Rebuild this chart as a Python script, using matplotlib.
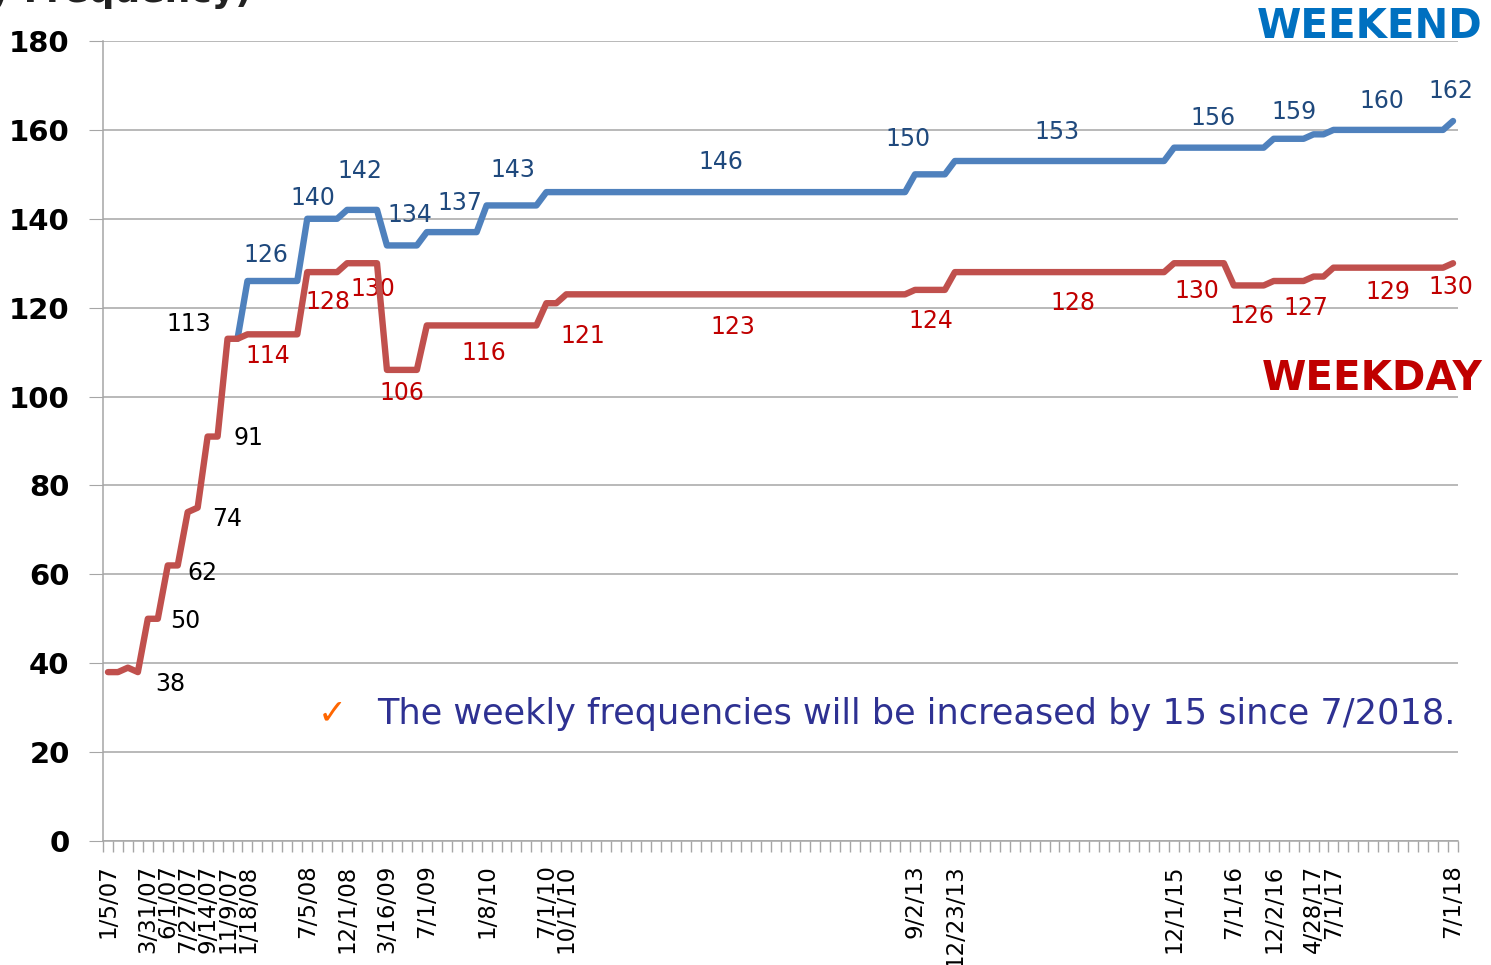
import numpy as np
import matplotlib.pyplot as plt

# categories (evenly spaced, only some carry a date label)
n_cat = 136
date_labels = ["1/5/07", "3/31/07", "6/1/07", "7/27/07", "9/14/07", "11/9/07",
               "1/18/08", "7/5/08", "12/1/08", "3/16/09", "7/1/09", "1/8/10",
               "7/1/10", "10/1/10", "9/2/13", "12/23/13", "12/1/15", "7/1/16",
               "12/2/16", "4/28/17", "7/1/17", "7/1/18"]
date_pos = [0, 4, 6, 8, 10, 12, 14, 20, 24, 28, 32, 38, 44, 46, 81, 85,
            107, 113, 117, 121, 123, 135]

# weekday frequency: category where a new value starts, and that value
weekday_start = [0, 2, 3, 4, 6, 8, 9, 10, 12, 14, 20, 24, 28, 32, 44, 46,
                 81, 85, 107, 113, 117, 121, 123, 135]
weekday_value = [38, 39, 38, 50, 62, 74, 75, 91, 113, 114, 128, 130, 106, 116,
                 121, 123, 124, 128, 130, 125, 126, 127, 129, 130]

# weekend frequency (starts in 11/2007)
weekend_start = [13, 14, 20, 24, 28, 32, 38, 44, 81, 85, 107, 117, 121, 123, 135]
weekend_value = [113, 126, 140, 142, 134, 137, 143, 146, 150, 153, 156, 158,
                 159, 160, 162]

# which points get a value label
black_idx = [3, 5, 7, 9, 11, 12]
black_txt = ["38", "50", "62", "74", "91", "113"]
blue_idx = [14, 20, 24, 28, 32, 38, 62, 81, 96, 111, 121, 128, 135]
red_idx = [14, 20, 24, 28, 38, 45, 63, 83, 96, 110, 117, 121, 128, 135]


def expand(starts, values, n):
    # hold each value until the next change
    out = np.full(n, np.nan)
    ends = list(starts[1:]) + [n]
    for s, e, v in zip(starts, ends, values):
        out[s:e] = v
    return out


weekday = expand(weekday_start, weekday_value, n_cat)
weekend = expand(weekend_start, weekend_value, n_cat)
x = np.arange(n_cat)

fig = plt.figure(figsize=(14.91, 9.65), dpi=100)
ax = fig.add_axes([103 / 1491, 1 - 841 / 965, 1355 / 1491, 800 / 965])

red = "#C0504D"
blue = "#4F81BD"
ax.plot(x, weekend, color=blue, lw=4.6, solid_joinstyle="round", solid_capstyle="round", zorder=3)
ax.plot(x, weekday, color=red, lw=4.6, solid_joinstyle="round", solid_capstyle="round", zorder=4)

ax.set_xlim(-0.5, n_cat - 0.5)
ax.set_ylim(0, 180)
ax.set_yticks(range(0, 181, 20))
ax.yaxis.grid(True, color="#A6A6A6", lw=1.1)
ax.set_axisbelow(True)
for lab in ax.get_yticklabels():
    lab.set_fontweight("bold")
ax.tick_params(axis="y", labelsize=21, length=10, color="#A6A6A6", pad=14)

ax.set_xticks(date_pos)
ax.set_xticklabels(date_labels, rotation=90, fontsize=16.5)
ax.set_xticks(np.arange(n_cat + 1) - 0.5, minor=True)
ax.tick_params(axis="x", which="major", length=0, pad=17)
ax.tick_params(axis="x", which="minor", length=8, color="#A6A6A6", width=1)

for side in ["top", "right"]:
    ax.spines[side].set_visible(False)
for side in ["left", "bottom"]:
    ax.spines[side].set_color("#A6A6A6")
    ax.spines[side].set_linewidth(1.1)

# value labels (offsets in pixels from the point)
black_off = [(32, -12), (27, -2), (25, -8), (29, -11), (31, -1), (-39, 15)]
for i, t, off in zip(black_idx, black_txt, black_off):
    ax.annotate(t, (x[i], weekday[i]), xytext=off, textcoords="offset pixels",
                ha="center", va="center", fontsize=17, color="black")

blue_off = [(18, 26), (6, 21), (13, 39), (23, 30), (33, 29), (26, 35), (-5, 30),
            (-7, 35), (-7, 29), (-1, 30), (-20, 22), (-1, 29), (-2, 30)]
for i, off in zip(blue_idx, blue_off):
    ax.annotate(f"{weekend[i]:.0f}", (x[i], weekend[i]), xytext=off, textcoords="offset pixels",
                ha="center", va="center", fontsize=17, color="#1F497D")

red_off = [(20, -22), (21, -30), (26, -26), (15, -23), (-3, -28), (26, -33), (-3, -33),
           (-4, -31), (8, -31), (-7, -28), (-22, -35), (-8, -31), (5, -24), (-2, -24)]
for i, off in zip(red_idx, red_off):
    ax.annotate(f"{weekday[i]:.0f}", (x[i], weekday[i]), xytext=off, textcoords="offset pixels",
                ha="center", va="center", fontsize=17, color="#C00000")

fig.text(1483 / 1491, 1 - 27 / 965, "WEEKEND", ha="right", va="center",
         fontsize=29, fontweight="bold", color="#0070C0")
fig.text(1483 / 1491, 1 - 379 / 965, "WEEKDAY", ha="right", va="center",
         fontsize=29, fontweight="bold", color="#C00000")
fig.text(332 / 1491, 1 - 713 / 965, "\u2713", ha="center", va="center",
         fontsize=25, color="#FF6600")
fig.text(377 / 1491, 1 - 714 / 965, "The weekly frequencies will be increased by 15 since 7/2018.",
         ha="left", va="center", fontsize=25.3, color="#2E3192")
fig.text(252 / 1491, 1 + 8 / 965, "(Weekly Frequency)", ha="right", va="center",
         fontsize=26, fontweight="bold", color="#222222")

fig.savefig("out.png", dpi=100)
